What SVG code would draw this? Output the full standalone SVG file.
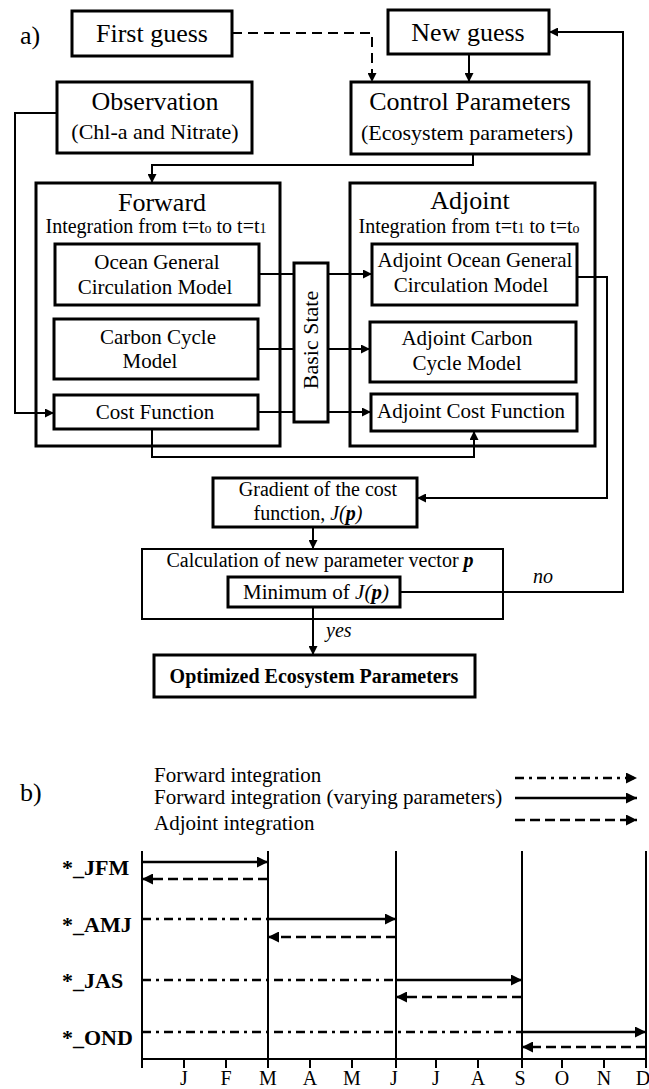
<svg xmlns="http://www.w3.org/2000/svg" width="649" height="1089" viewBox="0 0 649 1089" font-family="'Liberation Serif', 'DejaVu Serif', 'Times New Roman', serif">
<defs>
<marker id="ah" viewBox="0 0 10 10" refX="10" refY="5" markerWidth="12" markerHeight="9" markerUnits="userSpaceOnUse" orient="auto"><path d="M0,0 L10,5 L0,10 z" fill="#000"/></marker>
<marker id="ahb" viewBox="0 0 10 10" refX="10" refY="5" markerWidth="15" markerHeight="11" markerUnits="userSpaceOnUse" orient="auto"><path d="M0,0 L10,5 L0,10 z" fill="#000"/></marker>
</defs>
<style>
text{font-family:'Liberation Serif','DejaVu Serif','Times New Roman',serif;fill:#000}
.box{fill:#fff;stroke:#000;stroke-width:3}
.thin{fill:#fff;stroke:#000;stroke-width:2}
.c{fill:none;stroke:#000;stroke-width:2}
.ar{marker-end:url(#ah)}
.t26{font-size:26px;text-anchor:middle}
.t22{font-size:22px;text-anchor:middle}
.t21{font-size:21px;text-anchor:middle}
.t20{font-size:20px;text-anchor:middle}
.lbl{font-size:22px;font-weight:bold}
.mon{font-size:20px;text-anchor:middle}
.leg{font-size:21px}
.sol{fill:none;stroke:#000;stroke-width:2.5;marker-end:url(#ahb)}
.dd{fill:none;stroke:#000;stroke-width:2.5;stroke-dasharray:9 5 3 5}
.dda{fill:none;stroke:#000;stroke-width:2.5;stroke-dasharray:9 5 3 5;marker-end:url(#ahb)}
.da{fill:none;stroke:#000;stroke-width:2.5;stroke-dasharray:10 5;marker-end:url(#ahb)}
.vl{fill:none;stroke:#000;stroke-width:2}
</style>
<rect width="649" height="1089" fill="#fff"/>

<text x="20" y="44" font-size="26">a)</text>
<text x="20" y="801" font-size="26">b)</text>

<g id="first-guess"><rect class="box" x="72" y="11" width="160" height="45"/><text class="t26" x="152" y="42">First guess</text></g>
<g id="new-guess"><rect class="box" x="388" y="10" width="161" height="44"/><text class="t26" x="468" y="41">New guess</text></g>
<g id="observation"><rect class="box" x="57" y="82" width="195" height="71"/><text class="t26" x="155" y="110">Observation</text><text class="t22" x="155" y="139">(Chl-a and Nitrate)</text></g>
<g id="control"><rect class="box" x="351" y="82" width="238" height="72"/><text class="t26" x="470" y="110">Control Parameters</text><text class="t22" x="467" y="140">(Ecosystem parameters)</text></g>

<g id="forward"><rect class="box" x="36" y="183" width="244" height="263"/><text class="t26" x="162" y="211">Forward</text><text class="t20" x="156" y="233">Integration from t=t<tspan font-size="14">o</tspan> to t=t<tspan font-size="14">1</tspan></text></g>
<g id="ogcm"><rect class="box" x="55" y="244" width="204" height="61"/><text class="t21" x="157" y="269">Ocean General</text><text class="t21" x="155" y="294">Circulation Model</text></g>
<g id="carbon"><rect class="box" x="54" y="319" width="204" height="60"/><text class="t21" x="158" y="344">Carbon Cycle</text><text class="t21" x="150" y="368">Model</text></g>
<g id="cost"><rect class="box" x="54" y="395" width="204" height="34"/><text class="t21" x="155" y="419">Cost Function</text></g>

<g id="basic-state"><rect class="box" x="294" y="263" width="34" height="159"/><text class="t22" transform="translate(318,340) rotate(-90)">Basic State</text></g>

<g id="adjoint"><rect class="box" x="350" y="183" width="245" height="263"/><text class="t26" x="470" y="209">Adjoint</text><text class="t20" x="469" y="233">Integration from t=t<tspan font-size="14">1</tspan> to t=t<tspan font-size="14">o</tspan></text></g>
<g id="adj-ogcm"><rect class="box" x="372" y="244" width="205" height="61"/><text class="t21" x="475" y="267">Adjoint Ocean General</text><text class="t21" x="471" y="292">Circulation Model</text></g>
<g id="adj-carbon"><rect class="box" x="370" y="322" width="206" height="60"/><text class="t21" x="467" y="345">Adjoint Carbon</text><text class="t21" x="467" y="370">Cycle Model</text></g>
<g id="adj-cost"><rect class="box" x="371" y="394" width="206" height="37"/><text class="t21" x="471" y="418">Adjoint Cost Function</text></g>

<g id="gradient"><rect class="box" x="213" y="478" width="204" height="49"/><text class="t20" x="318" y="496">Gradient of the cost</text><text class="t20" x="308" y="520">function, <tspan font-style="italic">J(</tspan><tspan font-style="italic" font-weight="bold">p</tspan><tspan font-style="italic">)</tspan></text></g>
<g id="calc"><rect class="thin" x="142" y="549" width="361" height="70"/><text class="t20" x="320" y="567">Calculation of new parameter vector <tspan font-style="italic" font-weight="bold">p</tspan></text></g>
<g id="minimum"><rect class="box" x="228" y="577" width="172" height="30"/><text class="t21" x="316" y="599">Minimum of <tspan font-style="italic">J(</tspan><tspan font-style="italic" font-weight="bold">p</tspan><tspan font-style="italic">)</tspan></text></g>
<g id="optimized"><rect class="box" x="154" y="655" width="321" height="42"/><text class="t20" x="314" y="683" font-weight="bold">Optimized Ecosystem Parameters</text></g>

<g id="connectors">
<path class="c ar" d="M232,33 H372 V82" stroke-dasharray="10 6"/>
<path class="c ar" d="M469,54 V82"/>
<path class="c ar" d="M400,592 H623 V32 H549" stroke-width="2.5"/>
<path class="c ar" d="M473,154 V165 H152 V183"/>
<path class="c ar" d="M57,113 H15 V413 H54" stroke-width="1.8"/>
<path class="c" d="M259,274 H294 M258,349 H294 M258,412 H294"/>
<path class="c ar" d="M328,274 H372"/>
<path class="c ar" d="M328,349 H370"/>
<path class="c ar" d="M328,412 H371"/>
<path class="c ar" d="M152,429 V457 H474 V431"/>
<path class="c ar" d="M577,277 H607 V498 H417" stroke-width="1.8"/>
<path class="c ar" d="M313,527 V549"/>
<path class="c ar" d="M313,607 V655" stroke-width="2.5"/>
<text x="533" y="583" font-size="20" font-style="italic">no</text>
<text x="326" y="637" font-size="20" font-style="italic">yes</text>
</g>

<g id="legend">
<text class="leg" x="154" y="782">Forward integration</text>
<text class="leg" x="154" y="804">Forward integration (varying parameters)</text>
<text class="leg" x="154" y="830">Adjoint integration</text>
<path class="dda" d="M515,778 H637"/>
<path class="sol" d="M515,798 H637"/>
<path class="da" d="M515,820 H637"/>
</g>

<g id="chart">
<path class="vl" d="M142,851 V1068 M268,851 V1068 M396,851 V1068 M522,851 V1068 M646,851 V1068"/>
<path class="vl" stroke-width="2.5" d="M142,1059 H646"/>
<path class="vl" d="M184,1059 V1068 M226,1059 V1068 M310,1059 V1068 M352,1059 V1068 M436,1059 V1068 M478,1059 V1068 M562,1059 V1068 M604,1059 V1068"/>
<text class="lbl" x="62" y="875">*_JFM</text>
<text class="lbl" x="62" y="932">*_AMJ</text>
<text class="lbl" x="62" y="988">*_JAS</text>
<text class="lbl" x="62" y="1045">*_OND</text>
<path class="sol" d="M142,862 H268"/>
<path class="da" d="M268,879 H142"/>
<path class="dd" d="M142,919 H268"/>
<path class="sol" d="M268,919 H396"/>
<path class="da" d="M396,937 H268"/>
<path class="dd" d="M142,980 H396"/>
<path class="sol" d="M396,980 H522"/>
<path class="da" d="M522,997 H396"/>
<path class="dd" d="M142,1032 H522"/>
<path class="sol" d="M522,1032 H646"/>
<path class="da" d="M646,1047 H522"/>
<text class="mon" x="184" y="1085">J</text>
<text class="mon" x="226" y="1085">F</text>
<text class="mon" x="268" y="1085">M</text>
<text class="mon" x="310" y="1085">A</text>
<text class="mon" x="352" y="1085">M</text>
<text class="mon" x="394" y="1085">J</text>
<text class="mon" x="436" y="1085">J</text>
<text class="mon" x="478" y="1085">A</text>
<text class="mon" x="520" y="1085">S</text>
<text class="mon" x="562" y="1085">O</text>
<text class="mon" x="604" y="1085">N</text>
<text class="mon" x="643" y="1085">D</text>
</g>
</svg>
